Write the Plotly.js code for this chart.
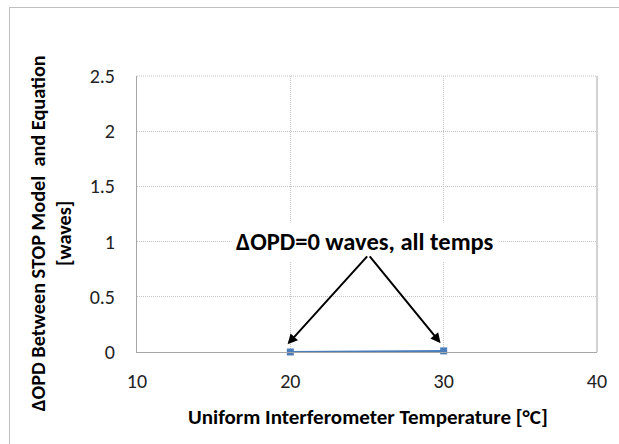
<!DOCTYPE html>
<html>
<head>
<meta charset="utf-8">
<script src="https://cdn.plot.ly/plotly-3.0.1.min.js"></script>
<style>
html,body{margin:0;padding:0;background:#fff;}
#frame{position:absolute;left:9px;top:7px;width:640px;height:460px;border:1px solid #bfbfbf;box-sizing:border-box;}
#chart{position:absolute;left:0;top:0;width:619px;height:444px;}
</style>
</head>
<body>
<div id="frame"></div>
<div id="chart"></div>
<script>
// Data
var temps = [20, 30];
var deltaOPD = [0, 0.01];
var xTicks = [10, 20, 30, 40];
var yTicks = [0, 0.5, 1, 1.5, 2, 2.5];
var yTickText = ['0', '0.5', '1', '1.5', '2', '2.5'];
var noteText = 'ΔOPD=0 waves, all temps';
var xTitle = 'Uniform Interferometer Temperature [°C]';
var yTitle = 'ΔOPD Between STOP Model  and Equation<br>[waves]';
var arrowTail = [25.1, 0.88];
var arrowHeads = [[19.82, 0.07], [29.8, 0.08]];

var fontFam = 'Carlito, "Open Sans", "Liberation Sans", sans-serif';

var trace = {
  x: temps, y: deltaOPD, type: 'scatter', mode: 'lines+markers',
  line: {color: '#4a7ebb', width: 2},
  marker: {symbol: 'square', size: 7, color: '#4a7ebb'},
  cliponaxis: false,
  showlegend: false, hoverinfo: 'skip'
};

var annotations = [{
  x: 24.9, y: 1.0, xref: 'x', yref: 'y', text: '<b>' + noteText + '</b>',
  showarrow: false, font: {family: fontFam, size: 24.5, color: '#000'},
  bgcolor: '#ffffff', borderpad: 4
}, {
  x: 0.502, y: -0.2355, xref: 'paper', yref: 'paper', xanchor: 'center', yanchor: 'middle',
  text: '<b>' + xTitle + '</b>', showarrow: false, font: {family: fontFam, size: 21, color: '#000'}
}, {
  x: -0.187, y: 0.43, xref: 'paper', yref: 'paper', xanchor: 'center', yanchor: 'middle',
  textangle: -90, text: '<b>' + yTitle + '</b>', showarrow: false,
  font: {family: fontFam, size: 20.3, color: '#000'}
}];
arrowHeads.forEach(function(h) {
  annotations.push({
    x: h[0], y: h[1], xref: 'x', yref: 'y',
    ax: arrowTail[0], ay: arrowTail[1], axref: 'x', ayref: 'y',
    text: '', showarrow: true, arrowhead: 2, arrowsize: 1, arrowwidth: 2,
    arrowcolor: '#000'
  });
});

var layout = {
  width: 619, height: 444,
  margin: {l: 137, r: 22, t: 76, b: 92},
  paper_bgcolor: 'rgba(0,0,0,0)', plot_bgcolor: '#fff',
  font: {family: fontFam, color: '#000'},
  xaxis: {
    range: [10, 40], tickvals: xTicks, ticks: '', showline: true, linecolor: '#a6a6a6', linewidth: 1,
    showgrid: true, gridcolor: '#c4c4c4', griddash: '1px,1px', zeroline: false,
    tickfont: {size: 20, color: '#222'}, ticklabelstandoff: 11
  },
  yaxis: {
    range: [0, 2.5], tickvals: yTicks, ticktext: yTickText, ticks: '', showline: true, linecolor: '#a6a6a6', linewidth: 1,
    showgrid: true, gridcolor: '#c4c4c4', griddash: '1px,1px', zeroline: false,
    tickfont: {size: 20, color: '#222'}, ticklabelstandoff: 17
  },
  shapes: [{type: 'line', xref: 'paper', yref: 'paper', x0: 0, x1: 1, y0: 1, y1: 1, line: {color: '#c4c4c4', width: 1, dash: '1px,1px'}},
           {type: 'line', xref: 'paper', yref: 'paper', x0: 1, x1: 1, y0: 0, y1: 1, line: {color: '#a6a6a6', width: 1}}],
  annotations: annotations
};

Plotly.newPlot('chart', [trace], layout, {staticPlot: true});
</script>
</body>
</html>
